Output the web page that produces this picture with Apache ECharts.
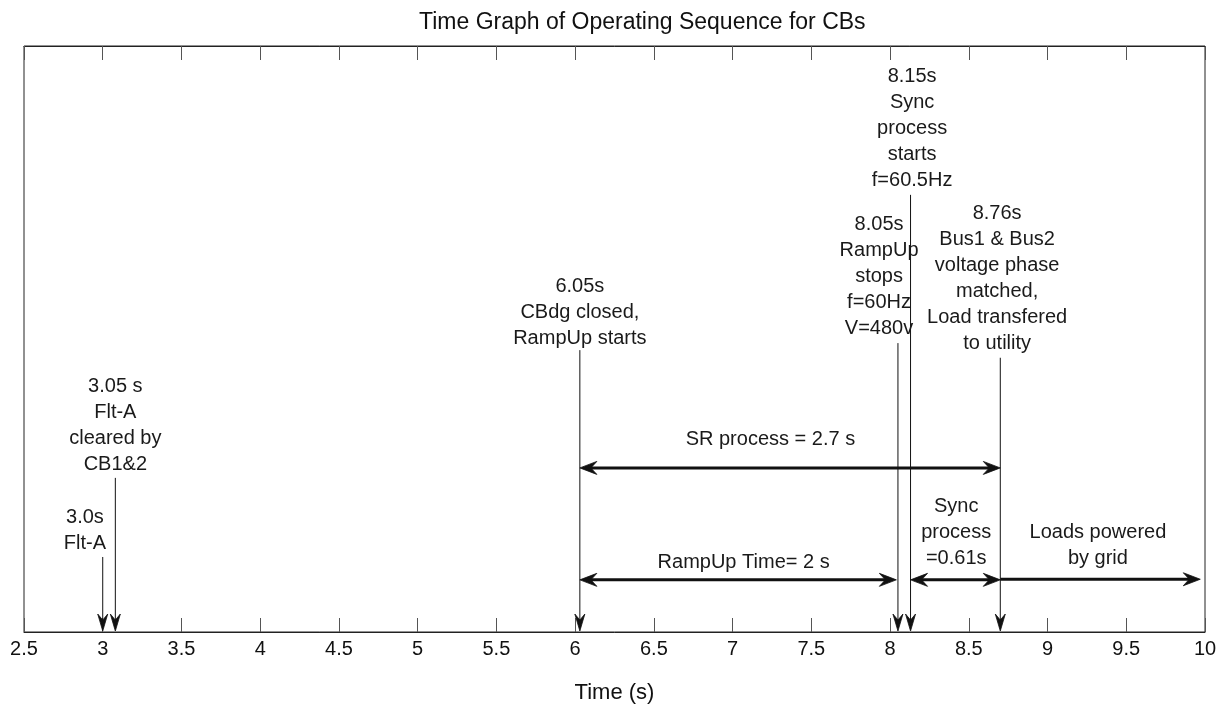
<!DOCTYPE html>
<html>
<head>
<meta charset="utf-8">
<script src="https://cdn.jsdelivr.net/npm/echarts@6/dist/echarts.min.js"></script>
<style>html,body{margin:0;padding:0;background:#fff}#c{width:1227px;height:713px}</style>
</head>
<body>
<div id="c"></div>
<script>
// x tick settings
const xMin = 2.5, xMax = 10, xStep = 0.5;

// vertical event arrows (time, top of arrow in 0-100 plot-height units)
const eventX   = [3.0, 3.08, 6.03, 8.05, 8.13, 8.70];
const eventTop = [12.8, 26.3, 48.1, 49.3, 74.6, 46.8];

// horizontal duration arrows
const spanStart = [6.03, 6.03, 8.13, 8.70];
const spanEnd   = [8.70, 8.04, 8.70, 9.97];
const spanY     = [28.0, 8.9, 8.9, 9.0];
const spanHeads = ['both', 'both', 'both', 'end'];

// annotation texts
const noteText = [
  '3.05 s\nFlt-A\ncleared by\nCB1&2',
  '3.0s\nFlt-A',
  '6.05s\nCBdg closed,\nRampUp starts',
  '8.05s\nRampUp\nstops\nf=60Hz\nV=480v',
  '8.15s\nSync\nprocess\nstarts\nf=60.5Hz',
  '8.76s\nBus1 & Bus2\nvoltage phase\nmatched,\nLoad transfered\nto utility',
  'SR process = 2.7 s',
  'RampUp Time= 2 s',
  'Sync\nprocess\n=0.61s',
  'Loads powered\nby grid'
];
const noteX = [3.08, 2.887, 6.03, 7.93, 8.14, 8.68, 7.24, 7.07, 8.42, 9.32];
const noteY = [35.2, 17.4, 54.6, 60.6, 86.0, 60.4, 32.8, 11.9, 16.9, 14.7];

const FONT = '"Liberation Sans", Arial, sans-serif';

const eventData = eventX.map((x, i) => [x, eventTop[i]]);
const spanData = spanStart.map((s, i) => [s, spanEnd[i], spanY[i], spanHeads[i] === 'both' ? 1 : 0]);
const noteData = noteX.map((x, i) => [x, noteY[i], i]);

function head(tip, dx, dy, len, half, notch) {
  // tip point, unit direction (dx,dy) pointing toward tip
  const bx = tip[0] - dx * len, by = tip[1] - dy * len;
  const nx = -dy, ny = dx;
  return { type: 'polygon', shape: { points: [
    [bx + nx * half, by + ny * half], [tip[0], tip[1]], [bx - nx * half, by - ny * half],
    [tip[0] - dx * (len - notch), tip[1] - dy * (len - notch)]
  ] }, style: { fill: '#111', stroke: '#111', lineWidth: 0.8 } };
}

const chart = echarts.init(document.getElementById('c'));
chart.setOption({
  animation: false,
  backgroundColor: '#fff',
  title: {
    text: 'Time Graph of Operating Sequence for CBs',
    left: 414, top: 6,
    textStyle: { fontFamily: FONT, fontSize: 23, fontWeight: 'normal', color: '#111' }
  },
  grid: { left: 24, right: 22, top: 46, bottom: 81, show: true, borderColor: '#222', borderWidth: 1, backgroundColor: 'transparent' },
  xAxis: [{
    type: 'value', min: xMin, max: xMax, interval: xStep, position: 'bottom',
    name: 'Time (s)', nameLocation: 'middle', nameGap: 50,
    nameTextStyle: { fontFamily: FONT, fontSize: 22, color: '#111' },
    axisLine: { show: true, lineStyle: { color: '#222', width: 1 } },
    axisTick: { show: true, inside: true, length: 14, lineStyle: { color: '#555' } },
    axisLabel: { fontFamily: FONT, fontSize: 20, color: '#111', margin: 7 },
    splitLine: { show: false }
  }, {
    type: 'value', min: xMin, max: xMax, interval: xStep, position: 'top',
    axisLine: { show: true, lineStyle: { color: '#222', width: 1 } },
    axisTick: { show: true, inside: true, length: 14, lineStyle: { color: '#555' } },
    axisLabel: { show: false }, splitLine: { show: false }
  }],
  yAxis: {
    type: 'value', min: 0, max: 100, show: false
  },
  series: [{
    type: 'custom',
    data: eventData,
    renderItem: function (params, api) {
      const top = api.coord([api.value(0), api.value(1)]);
      const bot = api.coord([api.value(0), 0]);
      return { type: 'group', children: [
        { type: 'line', shape: { x1: top[0], y1: top[1], x2: bot[0], y2: bot[1] - 4 },
          style: { stroke: '#111', lineWidth: 1 } },
        head([bot[0], bot[1] - 1], 0, 1, 17, 5, 6)
      ]};
    }
  }, {
    type: 'custom',
    data: spanData,
    renderItem: function (params, api) {
      const a = api.coord([api.value(0), api.value(2)]);
      const b = api.coord([api.value(1), api.value(2)]);
      const both = api.value(3) === 1;
      const ch = [
        { type: 'line', shape: { x1: a[0] + (both ? 6 : 0), y1: a[1], x2: b[0] - 6, y2: b[1] }, style: { stroke: '#111', lineWidth: 3 } },
        head(b, 1, 0, 17, 6.5, 6)
      ];
      if (both) ch.push(head(a, -1, 0, 17, 6.5, 6));
      return { type: 'group', children: ch };
    }
  }, {
    type: 'custom',
    data: noteData,
    renderItem: function (params, api) {
      const p = api.coord([api.value(0), api.value(1)]);
      return { type: 'text', x: p[0], y: p[1], style: {
        text: noteText[api.value(2)], align: 'center', verticalAlign: 'middle',
        fontFamily: FONT, fontSize: 20, lineHeight: 26, fill: '#1a1a1a'
      }};
    }
  }]
});
</script>
</body>
</html>
